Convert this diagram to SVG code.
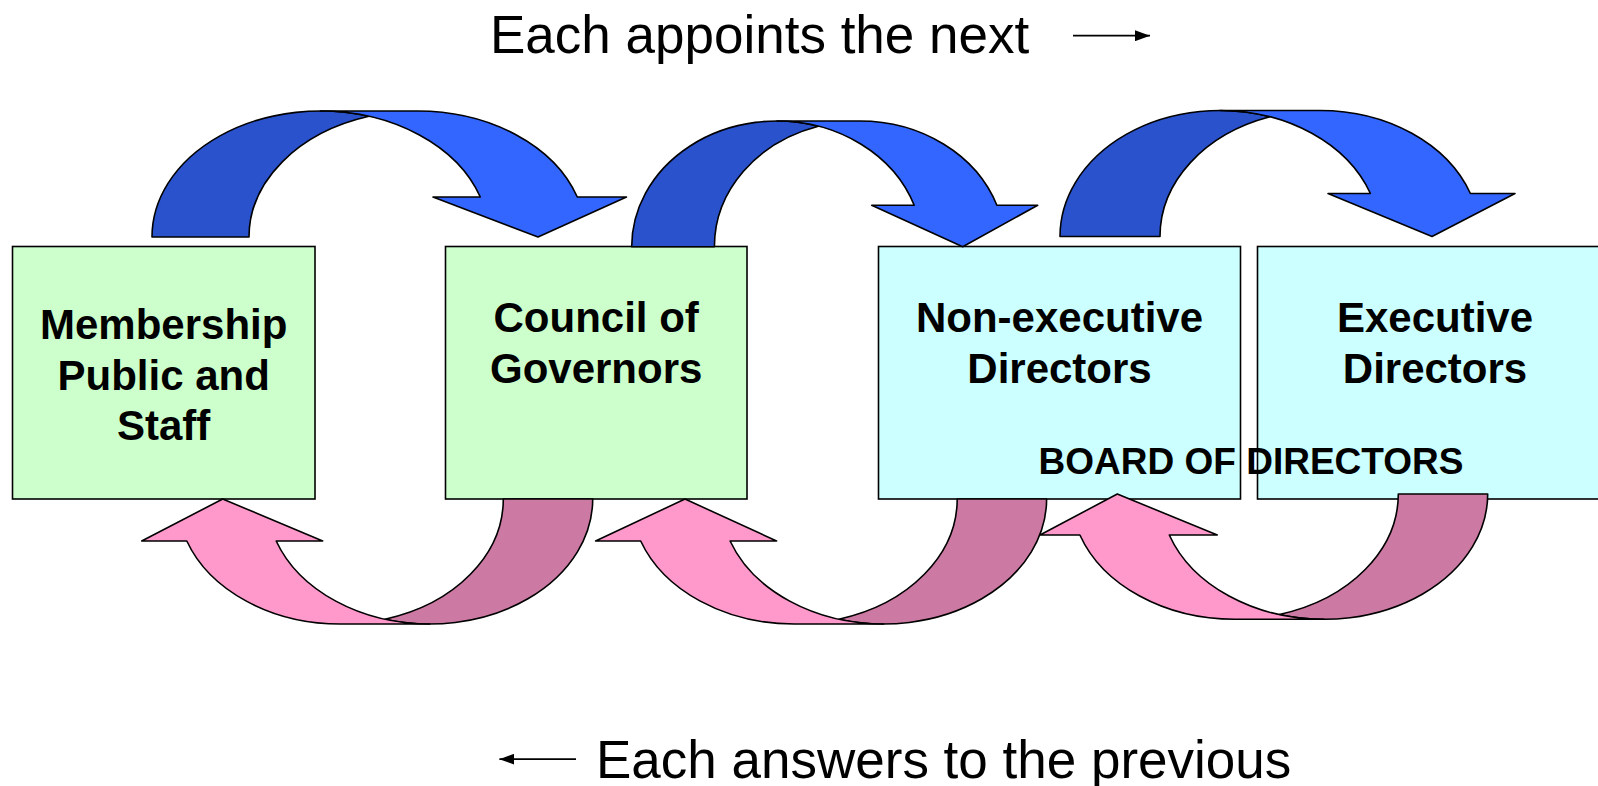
<svg xmlns="http://www.w3.org/2000/svg" width="1598" height="786" viewBox="0 0 1598 786">
<style>
.box{stroke:#000;stroke-width:1.6}
.green{fill:#CCFFCC}
.cyan{fill:#CCFFFF}
.bl{fill:#3366FF;stroke:#000;stroke-width:1.6;stroke-linejoin:round}
.bd{fill:#2952CC;stroke:#000;stroke-width:1.6;stroke-linejoin:round}
.pl{fill:#FF99CC;stroke:#000;stroke-width:1.6;stroke-linejoin:round}
.pd{fill:#CC7AA3;stroke:#000;stroke-width:1.6;stroke-linejoin:round}
.lbl{font-family:"Liberation Sans",Arial,sans-serif;font-weight:bold;font-size:42px;fill:#000;text-anchor:middle}
.cap{font-family:"Liberation Sans",Arial,sans-serif;font-size:53px;fill:#000}
.brd{font-family:"Liberation Sans",Arial,sans-serif;font-weight:bold;font-size:37px;fill:#000;text-anchor:middle}
.ln{stroke:#000;stroke-width:1.8;fill:none}
</style>
<defs>
<marker id="ah" viewBox="0 0 15 11" refX="15" refY="5.5" markerWidth="15" markerHeight="11" markerUnits="userSpaceOnUse" orient="auto">
<path d="M0,0 L15,5.5 L0,11 Z" fill="#000"/>
</marker>
</defs>
<rect width="1598" height="786" fill="#fff"/>
<g id="membership">
<rect class="box green" x="12.5" y="246.5" width="302.5" height="252.5"/>
<text class="lbl" x="163.7" y="338.5">Membership</text>
<text class="lbl" x="163.7" y="389.5">Public and</text>
<text class="lbl" x="163.7" y="440">Staff</text>
</g>
<g id="council">
<rect class="box green" x="445.5" y="246.5" width="301.5" height="252.5"/>
<text class="lbl" x="596.2" y="331.5">Council of</text>
<text class="lbl" x="596.2" y="383">Governors</text>
</g>
<g id="nonexec">
<rect class="box cyan" x="878.5" y="246.5" width="362" height="252.5"/>
<text class="lbl" x="1059.5" y="331.5">Non-executive</text>
<text class="lbl" x="1059.5" y="383">Directors</text>
</g>
<g id="exec">
<rect class="box cyan" x="1257.5" y="246.5" width="356" height="252.5"/>
<text class="lbl" x="1435" y="331.5">Executive</text>
<text class="lbl" x="1435" y="383">Directors</text>
</g>
<g id="connectors">
<path class="bd" d="M152,237 A168.5,126 0 0 1 369,116.33 A168.5,126 0 0 0 249,237 Z"/>
<path class="bl" d="M538,237 L433,197 L480.3,197 A168.5,126 0 0 0 320.5,111 L417.5,111 A168.5,126 0 0 1 577.3,197 L626.5,197 Z"/>
<path class="bd" d="M631.7,246.7 A145.3,125.7 0 0 1 818.35,126.2 A145.3,125.7 0 0 0 714.4,246.7 Z"/>
<path class="bl" d="M962.7,246.7 L871.7,205.3 L914.2,205.3 A145.3,125.7 0 0 0 777,121 L859.7,121 A145.3,125.7 0 0 1 996.9,205.3 L1037.7,205.3 Z"/>
<path class="bd" d="M1060,236.5 A160,126 0 0 1 1270,116.8 A160,126 0 0 0 1160,236.5 Z"/>
<path class="bl" d="M1432,236.5 L1328,193.5 L1370.4,193.5 A160,126 0 0 0 1220,110.5 L1320,110.5 A160,126 0 0 1 1470.4,193.5 L1515,193.5 Z"/>
<path class="pd" d="M592.7,499 A163,125 0 0 1 385,619.2 A163,125 0 0 0 503.3,499 Z"/>
<path class="pl" d="M222.7,499 L322.7,541 L276.2,541 A163,125 0 0 0 429.7,624 L340.3,624 A163,125 0 0 1 186.8,541 L141.7,541 Z"/>
<path class="pd" d="M1046.6,499 A163,125 0 0 1 838.9,619.2 A163,125 0 0 0 957.2,499 Z"/>
<path class="pl" d="M685,499 L776.6,541 L730.1,541 A163,125 0 0 0 883.6,624 L794.2,624 A163,125 0 0 1 640.7,541 L595.6,541 Z"/>
<path class="pd" d="M1487.7,494 A163.7,125.3 0 0 1 1279.3,614.5 A163.7,125.3 0 0 0 1398.3,494 Z"/>
<path class="pl" d="M1117.3,494 L1217.3,535 L1169.3,535 A163.7,125.3 0 0 0 1324,619.3 L1234.6,619.3 A163.7,125.3 0 0 1 1079.9,535 L1040,535 Z"/>
</g>
<g id="board">
<text class="brd" x="1251" y="474">BOARD OF DIRECTORS</text>
</g>
<g id="captions">
<text class="cap" x="490" y="53">Each appoints the next</text>
<line class="ln" x1="1073" y1="35.7" x2="1150" y2="35.7" marker-end="url(#ah)"/>
<line class="ln" x1="576" y1="759.2" x2="499.4" y2="759.2" marker-end="url(#ah)"/>
<text class="cap" x="596" y="778">Each answers to the previous</text>
</g>
</svg>
